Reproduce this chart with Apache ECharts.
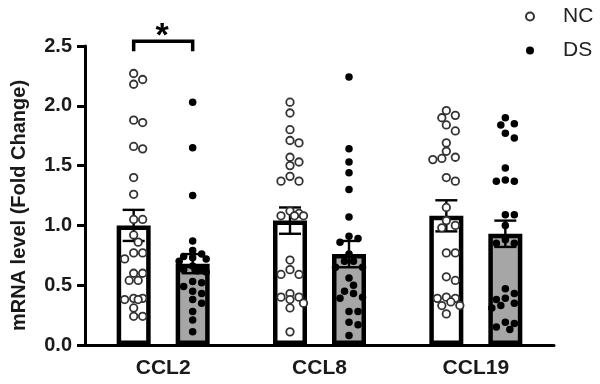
<!DOCTYPE html>
<html>
<head>
<meta charset="utf-8">
<script src="https://cdn.jsdelivr.net/npm/echarts@6/dist/echarts.min.js"></script>
<style>
  html, body { margin: 0; padding: 0; background: #fff; }
  #chart { width: 600px; height: 384px; }
</style>
</head>
<body>
<div id="chart"></div>
<script>
// 数据：三种趋化因子，NC / DS 两组
const categories = ['CCL2', 'CCL8', 'CCL19']
const groups = ['NC', 'DS']
const yMin = 0
const yMax = 2.5
const yStep = 0.5

// 柱高（均值）与误差（SEM）
const ncMean = [1.00, 1.04, 1.08]
const ncSem = [0.13, 0.11, 0.13]
const dsMean = [0.68, 0.76, 0.93]
const dsSem = [0.08, 0.11, 0.11]

// 每个样本点
const ncPoints = [
  [2.27, 2.22, 2.18, 1.88, 1.86, 1.66, 1.64, 1.40, 1.26, 1.05, 1.05, 0.92, 0.86, 0.77, 0.77,
   0.72, 0.60, 0.60, 0.54, 0.54, 0.39, 0.39, 0.38, 0.38, 0.31, 0.24, 0.24],
  [2.03, 1.94, 1.80, 1.71, 1.69, 1.57, 1.50, 1.53, 1.37, 1.37, 1.41, 1.10, 1.08, 1.12, 1.08,
   1.08, 0.71, 0.63, 0.59, 0.59, 0.40, 0.35, 0.40, 0.31, 0.43, 0.38, 0.11],
  [1.96, 1.92, 1.90, 1.84, 1.79, 1.69, 1.62, 1.55, 1.57, 1.56, 1.40, 1.37, 1.15, 1.04, 0.98,
   1.00, 0.77, 0.77, 0.54, 0.57, 0.39, 0.40, 0.39, 0.33, 0.36, 0.33, 0.26],
]
const dsPoints = [
  [2.03, 1.65, 1.25, 0.87, 0.79, 0.76, 0.74, 0.73, 0.72, 0.70, 0.66, 0.64, 0.63, 0.62, 0.61,
   0.53, 0.52, 0.49, 0.45, 0.43, 0.38, 0.35, 0.28, 0.21, 0.11],
  [2.24, 1.64, 1.53, 1.44, 1.30, 1.07, 0.89, 0.86, 0.91, 0.76, 0.70, 0.65, 0.65, 0.70, 0.56,
   0.50, 0.45, 0.40, 0.43, 0.39, 0.28, 0.28, 0.19, 0.17, 0.08],
  [1.90, 1.84, 1.85, 1.77, 1.73, 1.48, 1.38, 1.37, 1.37, 1.09, 1.09, 1.00, 0.88, 0.85, 0.85,
   0.47, 0.43, 0.39, 0.35, 0.31, 0.33, 0.38, 0.18, 0.19, 0.15, 0.13],
]

// 显著性标记
const sigCategory = ['CCL2']
const sigLevel = [2.54]
const sigLabel = ['*']

// ========== 样式常量 ==========
const FONT = 'Arial, "Liberation Sans", sans-serif'
const GRID = { left: 85, top: 46, right: 46, bottom: 39 }
const BAR_W = 34        // 柱宽（不含边框）
const BAR_GAP = 25      // 两柱间距
const BAR_OFFSET = (BAR_W + BAR_GAP) / 2
const CAP = 11          // 误差棒帽半宽
const PX_X = (600 - GRID.left - GRID.right) / categories.length
const PX_Y = (384 - GRID.top - GRID.bottom) / (yMax - yMin)

// 简单蜂群布局：点按数值从高到低依次放，避免重叠
function swarm(values, center) {
  const D = 8, STEP = 4.5, MAX = 16
  const placed = []
  return values.slice().sort((a, b) => b - a).map((v) => {
    const py = v * PX_Y
    let best = 0, bestDist = -1
    for (let k = 0; k < 20; k++) {
      const off = k === 0 ? 0 : (k % 2 ? 1 : -1) * Math.ceil(k / 2) * STEP
      if (Math.abs(off) > MAX) break
      let minD = Infinity
      for (const p of placed) {
        const d = Math.hypot(off - p.off, py - p.py)
        if (d < minD) minD = d
      }
      if (minD >= D) { best = off; bestDist = Infinity; break }
      if (minD > bestDist) { bestDist = minD; best = off }
    }
    placed.push({ off: best, py })
    return [center + best / PX_X, v]
  })
}

function scatterData(points, side) {
  return points.flatMap((vals, i) => swarm(vals, i + 0.5 + side * BAR_OFFSET / PX_X))
}

function errorSeries(means, sems, side) {
  return {
    type: 'custom',
    z: 4,
    silent: true,
    renderItem(params, api) {
      const i = api.value(0)
      const m = api.value(1)
      const s = api.value(2)
      const x = api.coord([i, m])[0] + side * BAR_OFFSET
      const yt = api.coord([i, m + s])[1]
      const yb = api.coord([i, m - s])[1]
      const st = { stroke: '#000', lineWidth: 2.4 }
      return {
        type: 'group',
        children: [
          { type: 'line', shape: { x1: x, y1: yt, x2: x, y2: yb }, style: st },
          { type: 'line', shape: { x1: x - CAP, y1: yt, x2: x + CAP, y2: yt }, style: st },
          { type: 'line', shape: { x1: x - CAP, y1: yb, x2: x + CAP, y2: yb }, style: st },
        ],
      }
    },
    data: means.map((m, i) => [i, m, sems[i]]),
  }
}

const barStyle = (fill) => ({ color: fill, borderColor: '#000', borderWidth: 4.5 })

const chart = echarts.init(document.getElementById('chart'))
chart.setOption({
  animation: false,
  grid: GRID,
  legend: {
    data: groups,
    orient: 'vertical',
    left: 520,
    top: 1,
    itemGap: 13,
    itemWidth: 8,
    itemHeight: 8,
    textStyle: { fontFamily: FONT, fontSize: 21, color: '#222', padding: [0, 0, 0, 24] },
  },
  xAxis: [
    {
      type: 'category',
      data: categories,
      axisLine: { lineStyle: { color: '#000', width: 3 } },
      axisTick: { alignWithLabel: true, length: 9, lineStyle: { color: '#000', width: 3 } },
      axisLabel: { fontFamily: FONT, fontSize: 21, fontWeight: 'bold', color: '#1a1a1a', margin: 13 },
    },
    { type: 'value', min: 0, max: categories.length, show: false },
  ],
  yAxis: {
    type: 'value',
    min: yMin,
    max: yMax,
    interval: yStep,
    name: 'mRNA level (Fold Change)',
    nameLocation: 'middle',
    nameGap: 56,
    nameTextStyle: {
      fontFamily: FONT, fontSize: 20, fontWeight: 'bold', color: '#1a1a1a',
      padding: [0, 20, 0, 0],
    },
    axisLine: { show: true, lineStyle: { color: '#000', width: 3 } },
    axisTick: { show: true, length: 8, lineStyle: { color: '#000', width: 3 } },
    axisLabel: {
      fontFamily: FONT, fontSize: 20, fontWeight: 'bold', color: '#1a1a1a', margin: 13,
      formatter: (v) => v.toFixed(1),
    },
    splitLine: { show: false },
  },
  series: [
    {
      type: 'bar',
      barWidth: BAR_W,
      barGap: (BAR_GAP / BAR_W * 100) + '%',
      itemStyle: barStyle('#fff'),
      z: 1,
      data: ncMean,
    },
    {
      type: 'bar',
      barWidth: BAR_W,
      itemStyle: barStyle('#a6a6a6'),
      z: 1,
      data: dsMean,
    },
    errorSeries(ncMean, ncSem, -1),
    errorSeries(dsMean, dsSem, 1),
    {
      name: 'NC',
      type: 'scatter',
      xAxisIndex: 1,
      symbolSize: 7.5,
      z: 5,
      itemStyle: { color: '#fff', borderColor: '#333', borderWidth: 1.8, opacity: 1 },
      data: scatterData(ncPoints, -1),
    },
    {
      name: 'DS',
      type: 'scatter',
      xAxisIndex: 1,
      symbolSize: 7.5,
      z: 5,
      itemStyle: { color: '#000', opacity: 1 },
      data: scatterData(dsPoints, 1),
    },
    {
      // 显著性括号
      type: 'custom',
      z: 6,
      silent: true,
      clip: false,
      renderItem(params, api) {
        const c = api.coord([api.value(0), api.value(1)])
        const x1 = c[0] - BAR_OFFSET, x2 = c[0] + BAR_OFFSET, y = c[1]
        const st = { stroke: '#000', lineWidth: 3.5, fill: null }
        return {
          type: 'group',
          children: [
            { type: 'polyline', shape: { points: [[x1, y + 10], [x1, y], [x2, y], [x2, y + 10]] }, style: st },
            {
              type: 'text',
              x: c[0] - 1, y: y + 12,
              style: {
                text: sigLabel[params.dataIndex], fontFamily: FONT, fontSize: 34, fontWeight: 'bold',
                fill: '#000', align: 'center', verticalAlign: 'bottom',
              },
            },
          ],
        }
      },
      data: sigCategory.map((c, i) => [categories.indexOf(c), sigLevel[i]]),
    },
  ],
})
</script>
</body>
</html>
